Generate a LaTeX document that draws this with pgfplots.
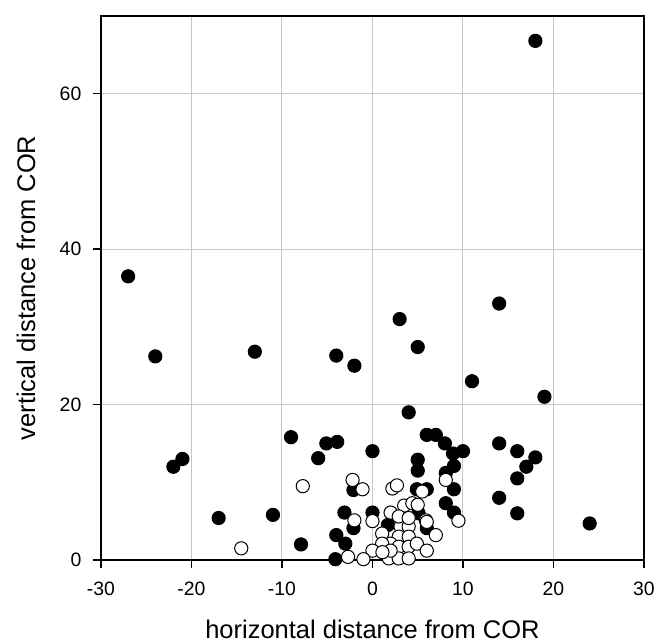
\documentclass[border=0pt]{standalone}
\usepackage{fontspec}
\setmainfont{Liberation Sans}
\usepackage{pgfplots}
\pgfplotsset{compat=1.18}

% filled circles
\pgfplotstableread{
x y
18 66.8
-27 36.5
-24 26.2
-13 26.8
-4 26.3
-2 25.0
3 31.0
5 27.4
14 33.0
11 23.0
19 21.0
4 19.0
-22 12.0
-21 13.0
-17 5.4
-11 5.8
-7.9 2.0
-9 15.8
-6 13.1
-5.1 15.0
-3.9 15.2
0 14.0
6 16.1
7 16.1
8 15.0
8.9 13.7
10 14.0
5 12.9
5 11.5
9 12.1
8.1 11.2
9 9.1
4.9 9.1
6 9.1
8.1 7.3
9 6.1
-3.1 6.1
0 6.1
-2.1 9.0
-4 3.2
-3 2.1
-4.1 0.1
-2.1 4.1
1.7 4.5
5.1 6.0
6 4.1
14 15.0
16 14.0
16 10.5
17 12.0
18 13.2
14 8.0
16 6.0
24 4.7
}\filled

% open circles
\pgfplotstableread{
x y
-14.5 1.5
-7.7 9.5
-2.2 10.3
-1.1 9.1
2.2 9.2
2.7 9.6
8.1 10.3
5.5 8.8
-2 5.1
0 5.0
2 6.1
3.5 7.0
4.4 7.3
5 7.1
5.9 5.1
6 4.9
7 3.2
9.5 5.05
1.07 3.4
3.1 4.3
4.0 4.3
2.9 5.6
4.0 5.4
2.9 3.0
4.0 3.0
2 2.1
1.07 2.1
2.9 1.7
4.0 1.7
4.9 2.1
6 1.2
0 1.2
-1 0.1
-2.7 0.4
1.8 0.2
2.9 0.2
4.0 0.2
2 1.2
1.1 1.0
}\open

\begin{document}
\begin{tikzpicture}
\begin{axis}[
  scale only axis, width=271.5pt, height=272pt,
  xmin=-30, xmax=30, ymin=0, ymax=70,
  xtick={-30,-20,...,30}, ytick={0,20,40,60},
  xticklabels={-30,-20,-10,0,10,20,30},
  yticklabels={0,20,40,60},
  tick align=outside, major tick length=4pt,
  xtick pos=bottom, ytick pos=left,
  grid=major, major grid style={draw=black!22, line width=0.5pt},
  axis line style={line width=0.75pt},
  tick style={black, line width=0.75pt},
  ticklabel style={font=\fontsize{9.7}{11}\selectfont},
  xticklabel style={yshift=-3.3pt},
  yticklabel style={xshift=-2.3pt},
  label style={font=\fontsize{12.75}{15}\selectfont},
  xlabel={horizontal distance from COR},
  ylabel={vertical distance from COR},
  x label style={at={(axis description cs:0.5,-0.1445)}, anchor=base},
  y label style={at={(axis description cs:-0.1215,0.5)}, anchor=base},
  clip=false,
]
\addplot[only marks, mark=*, mark size=3.3pt,
  mark options={draw=black, fill=black, line width=0.5pt}] table {\filled};
\addplot[only marks, mark=*, mark size=3.3pt,
  mark options={draw=black, fill=white, line width=0.5pt}] table {\open};
\coordinate (bbl) at (axis cs:-41.16,-10.81);
\coordinate (btr) at (axis cs:31.33,72.06);
\end{axis}
\pgfresetboundingbox
\path[use as bounding box] (bbl) rectangle (btr);
\end{tikzpicture}
\end{document}
